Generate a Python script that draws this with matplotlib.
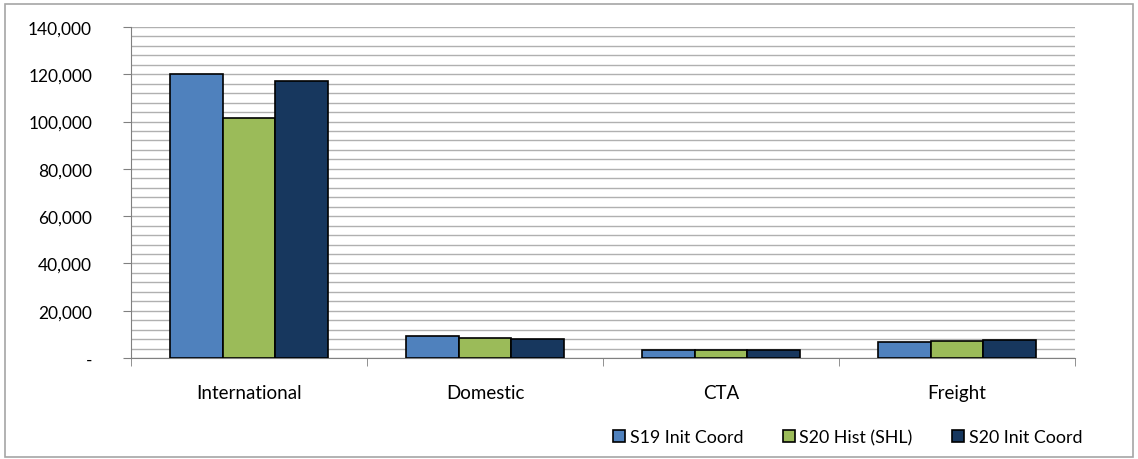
import matplotlib.pyplot as plt
import matplotlib.ticker as mticker
from matplotlib.patches import Rectangle
import numpy as np

plt.rcParams['font.family'] = ['Lato', 'DejaVu Sans']

categories = ['International', 'Domestic', 'CTA', 'Freight']
series_names = ['S19 Init Coord', 'S20 Hist (SHL)', 'S20 Init Coord']
s19_init = [120000, 9200, 3200, 6800]
s20_hist = [101600, 8600, 3300, 7300]
s20_init = [117200, 8000, 3400, 7600]
colors = ['#4F81BD', '#9BBB59', '#17375E']

fig = plt.figure(figsize=(11.38, 4.6), dpi=100)
ax = fig.add_axes([0.1151, 0.2196, 0.8295, 0.7195])

x = np.arange(len(categories))
w = 0.222
for i, vals in enumerate([s19_init, s20_hist, s20_init]):
    ax.bar(x + (i - 1) * w, vals, w, color=colors[i], edgecolor='black',
           linewidth=1.2, label=series_names[i], zorder=3)

ax.set_xlim(-0.5, 3.5)
ax.set_ylim(0, 140000)
ax.yaxis.set_major_locator(mticker.MultipleLocator(20000))
ax.yaxis.set_minor_locator(mticker.MultipleLocator(4000))
ax.yaxis.set_major_formatter(mticker.FuncFormatter(
    lambda v, p: '-' if v == 0 else f'{int(v):,}'))
ax.grid(which='both', axis='y', color='#b0b0b0', linewidth=1.0, zorder=0)

ax.set_xticks(x)
ax.set_xticklabels(categories)
ax.set_xticks(np.arange(-0.5, 4, 1), minor=True)
ax.tick_params(axis='x', which='major', length=0, pad=19, labelsize=13.5)
ax.tick_params(axis='x', which='minor', length=6, color='#808080')
ax.tick_params(axis='y', which='major', length=6, color='#808080', labelsize=12.5, pad=22)
ax.tick_params(axis='y', which='minor', length=0)

for s in ['top', 'right']:
    ax.spines[s].set_visible(False)
for s in ['left', 'bottom']:
    ax.spines[s].set_color('#808080')

ax.legend(loc='lower right', bbox_to_anchor=(0.965, -0.005), bbox_transform=fig.transFigure,
          ncol=3, frameon=False, fontsize=12.8, handlelength=0.7, handleheight=0.7,
          handletextpad=0.25, columnspacing=2.2)

fig.patches.append(Rectangle((5 / 1138, 2 / 460), 1128 / 1138, 453 / 460,
                             transform=fig.transFigure, fill=False,
                             edgecolor='#a6a6a6', linewidth=1.2))

fig.savefig('out.png', dpi=100)
